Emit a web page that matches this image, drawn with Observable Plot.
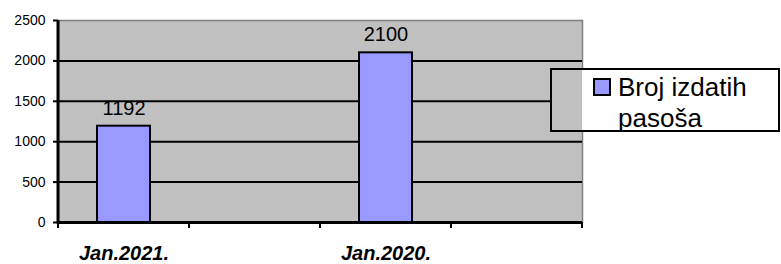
<!DOCTYPE html>
<html>
<head>
<meta charset="utf-8">
<script src="https://cdn.jsdelivr.net/npm/d3@7"></script>
<script src="https://cdn.jsdelivr.net/npm/@observablehq/plot@0.6"></script>
<style>
  html, body { margin: 0; padding: 0; background: #fff; }
  #wrap { position: relative; width: 781px; height: 264px; font-family: "Liberation Sans", Arial, sans-serif; }
  #legend {
    position: absolute; left: 550px; top: 68px; width: 230px; height: 64px;
    box-sizing: border-box; border: 2px solid #000;
    background: linear-gradient(to right, #c0c0c0 30px, #ffffff 30px);
    font-size: 26px; line-height: 31px; color: #000;
  }
  #legend .sw { position: absolute; left: 41px; top: 8px; width: 14px; height: 14px; border: 2px solid #000; background: #9999ff; }
  #legend .t1 { position: absolute; left: 66px; top: 2px; white-space: nowrap; }
  #legend .t2 { position: absolute; left: 66px; top: 33px; white-space: nowrap; }
</style>
</head>
<body>
<div id="wrap"></div>
<script>
const categories = ["Jan.2021.", " ", "Jan.2020.", "  "];
const values = [1192, null, 2100, null];
const yTicks = [0, 500, 1000, 1500, 2000, 2500];
const seriesName = ["Broj izdatih", "pasoša"];

const data = categories.map((c, i) => ({cat: c, value: values[i]})).filter(d => d.value != null);

const W = 781, H = 264, ML = 58, MR = 199, MT = 20, MB = 42;
const step = (W - ML - MR) / categories.length;

const chart = Plot.plot({
  width: W, height: H,
  marginLeft: ML, marginRight: MR, marginTop: MT, marginBottom: MB,
  style: {fontFamily: "'Liberation Sans', Arial, sans-serif", color: "#000", background: "transparent"},
  x: {domain: categories, paddingInner: 0.595, paddingOuter: 0.2975, align: 0.5, label: null},
  y: {domain: [0, 2500], label: null},
  marks: [
    Plot.frame({fill: "#c0c0c0", stroke: "#808080", strokeWidth: 1.5}),
    Plot.ruleY(yTicks.filter(t => t > 0 && t < 2500), {stroke: "#000", strokeWidth: 2}),
    Plot.barY(data, {x: "cat", y: "value", fill: "#9999ff", stroke: "#000", strokeWidth: 2}),
    Plot.text(data, {x: "cat", y: "value", text: d => String(d.value), fontSize: 20, dy: -18, fill: "#000"}),
    Plot.ruleY([0], {stroke: "#000", strokeWidth: 3}),
    Plot.axisY({ticks: yTicks, tickSize: 5, tickPadding: 8, fontSize: 14, stroke: "#000", strokeWidth: 2, tickFormat: d => String(d), label: null}),
    Plot.axisX({tickSize: 0, tickPadding: 23, fontSize: 20, fontWeight: "bold", fontStyle: "italic", tickFormat: d => d.trim(), label: null})
  ]
});
document.getElementById("wrap").appendChild(chart);

// boundary ticks below x axis, placed from the band scale
const xs = chart.scale("x");
const svg = d3.select(chart);
const centers = categories.map(c => xs.apply(c) + xs.bandwidth / 2);
const boundaries = centers.map(c => c - step / 2).concat([centers[centers.length - 1] + step / 2]);
svg.append("g").selectAll("line").data(boundaries).join("line")
  .attr("x1", d => d).attr("x2", d => d)
  .attr("y1", H - MB).attr("y2", H - MB + 6)
  .attr("stroke", "#000").attr("stroke-width", 2);
// left axis line
svg.append("line").attr("x1", ML).attr("x2", ML).attr("y1", MT).attr("y2", H - MB + 1.5)
  .attr("stroke", "#000").attr("stroke-width", 3);

const leg = document.createElement("div");
leg.id = "legend";
leg.innerHTML = `<span class="sw"></span><span class="t1">${seriesName[0]}</span><span class="t2">${seriesName[1]}</span>`;
document.getElementById("wrap").appendChild(leg);
</script>
</body>
</html>
